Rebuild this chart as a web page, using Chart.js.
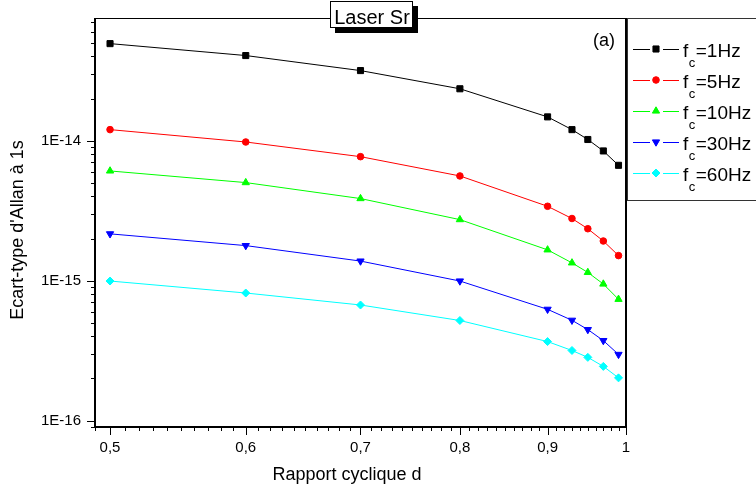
<!DOCTYPE html>
<html>
<head>
<meta charset="utf-8">
<script src="https://cdn.jsdelivr.net/npm/chart.js@4.4.1/dist/chart.umd.min.js"></script>
<style>
  html, body { margin: 0; padding: 0; background: #fff; }
  #wrap { width: 756px; height: 493px; }
</style>
</head>
<body>
<div id="wrap"><canvas id="chart"></canvas></div>
<script>
// rapport cyclique d (x) and Allan deviation at 1s for each cutoff frequency
const dutyCycle = [0.5, 0.6, 0.7, 0.8, 0.9, 0.93, 0.95, 0.97, 0.99];
const fc1  = [4.94e-14, 4.06e-14, 3.17e-14, 2.35e-14, 1.48e-14, 1.20e-14, 1.02e-14, 8.45e-15, 6.67e-15];
const fc5  = [1.20e-14, 9.79e-15, 7.69e-15, 5.60e-15, 3.40e-15, 2.78e-15, 2.35e-15, 1.92e-15, 1.51e-15];
const fc10 = [6.08e-15, 5.02e-15, 3.86e-15, 2.73e-15, 1.66e-15, 1.34e-15, 1.145e-15, 9.46e-16, 7.36e-16];
const fc30 = [2.16e-15, 1.78e-15, 1.38e-15, 9.94e-16, 6.24e-16, 5.21e-16, 4.47e-16, 3.73e-16, 2.97e-16];
const fc60 = [9.94e-16, 8.16e-16, 6.70e-16, 5.19e-16, 3.67e-16, 3.17e-16, 2.83e-16, 2.44e-16, 2.02e-16];
const seriesNames = ['1Hz', '5Hz', '10Hz', '30Hz', '60Hz'];

const xTicks = [0.5, 0.6, 0.7, 0.8, 0.9, 1];
const xTickLabels = ['0,5', '0,6', '0,7', '0,8', '0,9', '1'];
const yTicks = [1e-16, 1e-15, 1e-14];
const yTickLabels = ['1E-16', '1E-15', '1E-14'];

const FONT = "'Liberation Sans', Arial, sans-serif";
const seriesStyles = [
  { color: '#000000', pointStyle: 'rect', radius: 4.3, rotation: 0 },
  { color: '#ff0000', pointStyle: 'circle', radius: 3.3, rotation: 0 },
  { color: '#00ff00', pointStyle: 'triangle', radius: 4.2, rotation: 0 },
  { color: '#0000ff', pointStyle: 'triangle', radius: 4.2, rotation: 180 },
  { color: '#00ffff', pointStyle: 'rectRot', radius: 4, rotation: 0 }
];
const seriesValues = [fc1, fc5, fc10, fc30, fc60];

function findIdx(list, v) {
  return list.findIndex(t => Math.abs(t - v) / t < 1e-6);
}

// minor ticks: every 0.01 on x, 1..9 per decade on y
function xTickValues(scale) {
  const out = [];
  for (let k = 49; k <= 100; k++) out.push(k / 100);
  return out.filter(v => v >= scale.min - 1e-9 && v <= scale.max + 1e-9);
}
function yTickValues(scale) {
  const out = [];
  for (let e = -17; e <= -14; e++) {
    for (let m = 1; m <= 9; m++) out.push(+(m + 'e' + e));
  }
  return out.filter(v => v >= scale.min && v <= scale.max);
}

function noPad(scale) {
  scale.paddingTop = 0; scale.paddingBottom = 0;
  scale.paddingLeft = 0; scale.paddingRight = 0;
}

const decor = {
  id: 'decor',
  afterDraw(chart) {
    const { ctx, chartArea: a, scales } = chart;
    ctx.save();
    ctx.strokeStyle = '#000';

    // tick marks (major long, minor short)
    ctx.lineWidth = 1;
    scales.x.ticks.forEach(t => {
      const px = Math.round(scales.x.getPixelForValue(t.value)) + 0.5;
      const len = findIdx(xTicks, t.value) >= 0 ? 8 : 4;
      ctx.beginPath(); ctx.moveTo(px, a.bottom); ctx.lineTo(px, a.bottom + len); ctx.stroke();
    });
    scales.y.ticks.forEach(t => {
      const py = Math.round(scales.y.getPixelForValue(t.value)) + 0.5;
      const len = findIdx(yTicks, t.value) >= 0 ? 8 : 4;
      ctx.beginPath(); ctx.moveTo(a.left, py); ctx.lineTo(a.left - len, py); ctx.stroke();
    });

    // frame
    ctx.lineWidth = 2;
    ctx.beginPath();
    ctx.moveTo(a.left, a.top); ctx.lineTo(a.left, a.bottom); ctx.lineTo(a.right, a.bottom); ctx.lineTo(a.right, a.top);
    ctx.stroke();
    ctx.lineWidth = 1;
    ctx.beginPath(); ctx.moveTo(a.left, a.top + 0.5); ctx.lineTo(a.right, a.top + 0.5); ctx.stroke();

    // title box with shadow
    ctx.fillStyle = '#000';
    ctx.fillRect(335, 6, 83, 27);
    ctx.fillStyle = '#fff';
    ctx.fillRect(330, 1, 83, 27);
    ctx.strokeRect(330.5, 1.5, 82, 26);
    ctx.fillStyle = '#000';
    ctx.font = '20px ' + FONT;
    ctx.textAlign = 'center';
    ctx.textBaseline = 'alphabetic';
    ctx.fillText('Laser Sr', 372, 24);

    // panel label
    ctx.font = '18px ' + FONT;
    ctx.textAlign = 'left';
    ctx.fillText('(a)', 593, 46);

    // axis titles
    ctx.textAlign = 'center';
    ctx.textBaseline = 'middle';
    ctx.fillText('Rapport cyclique d', 347, 475);
    ctx.save();
    ctx.translate(18, 230);
    ctx.rotate(-Math.PI / 2);
    ctx.fillText("Ecart-type d'Allan à 1s", 0, 0);
    ctx.restore();

    // legend box
    ctx.strokeStyle = '#333';
    ctx.lineWidth = 1;
    ctx.strokeRect(627.5, 18.5, 140, 182);
    ctx.textBaseline = 'alphabetic';
    ctx.textAlign = 'left';
    chart.data.datasets.forEach((ds, i) => {
      const st = seriesStyles[i];
      const y = 49 + 31 * i;
      ctx.strokeStyle = st.color;
      ctx.fillStyle = st.color;
      ctx.lineWidth = 1;
      ctx.beginPath();
      ctx.moveTo(633, y + 0.5); ctx.lineTo(650, y + 0.5);
      ctx.moveTo(663, y + 0.5); ctx.lineTo(679, y + 0.5);
      ctx.stroke();
      Chart.helpers.drawPoint(ctx, { pointStyle: st.pointStyle, radius: st.radius, rotation: st.rotation, borderWidth: 1 }, 656, y);
      ctx.fillStyle = '#000';
      ctx.font = '19px ' + FONT;
      ctx.fillText('f', 683, y + 8);
      const fw = ctx.measureText('f').width;
      ctx.font = '13px ' + FONT;
      ctx.fillText('c', 683 + fw + 0.5, y + 18);
      const cw = ctx.measureText('c').width;
      ctx.font = '19px ' + FONT;
      ctx.fillText('=' + seriesNames[i], 683 + fw + cw + 1, y + 8);
    });
    ctx.restore();
  }
};

const datasets = seriesValues.map((vals, i) => ({
  label: 'fc=' + seriesNames[i],
  data: dutyCycle.map((d, j) => ({ x: d, y: vals[j] })),
  borderColor: seriesStyles[i].color,
  backgroundColor: seriesStyles[i].color,
  borderWidth: 1,
  pointStyle: seriesStyles[i].pointStyle,
  pointRadius: seriesStyles[i].radius,
  pointRotation: seriesStyles[i].rotation,
  pointBorderWidth: 1,
  pointBorderColor: seriesStyles[i].color,
  pointBackgroundColor: seriesStyles[i].color,
  tension: 0
}));

new Chart(document.getElementById('chart'), {
  type: 'line',
  data: { datasets },
  options: {
    responsive: true,
    maintainAspectRatio: false,
    animation: false,
    layout: { padding: { left: 0, right: 130, top: 18, bottom: 0 } },
    plugins: { legend: { display: false }, tooltip: { enabled: false } },
    scales: {
      x: {
        type: 'logarithmic',
        min: 0.49,
        max: 1.0,
        afterBuildTicks(scale) { scale.ticks = xTickValues(scale).map(v => ({ value: v })); },
        afterFit(scale) { scale.height = 66; noPad(scale); },
        grid: { display: false, drawTicks: false },
        border: { display: false },
        ticks: {
          autoSkip: false, maxRotation: 0, padding: 12, color: '#000',
          font: { family: FONT, size: 15 },
          callback(v) { const k = findIdx(xTicks, v); return k >= 0 ? xTickLabels[k] : ''; }
        }
      },
      y: {
        type: 'logarithmic',
        min: 9.06e-17,
        max: 7.53e-14,
        afterBuildTicks(scale) { scale.ticks = yTickValues(scale).map(v => ({ value: v })); },
        afterFit(scale) { scale.width = 95; noPad(scale); },
        grid: { display: false, drawTicks: false },
        border: { display: false },
        ticks: {
          autoSkip: false, padding: 14, color: '#000',
          font: { family: FONT, size: 15 },
          callback(v) { const k = findIdx(yTicks, v); return k >= 0 ? yTickLabels[k] : ''; }
        }
      }
    }
  },
  plugins: [decor]
});
</script>
</body>
</html>
